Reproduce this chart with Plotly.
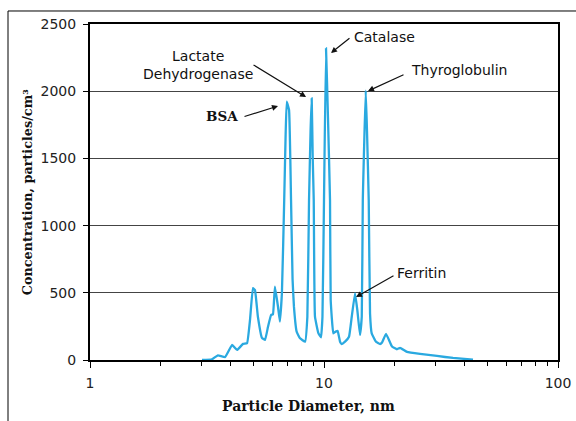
import numpy as np
import plotly.graph_objects as go

# Particle diameter (nm) and concentration (particles/cm3)
diameter = [3.01, 3.32, 3.52, 3.78, 4.05, 4.25, 4.51, 4.69, 4.83, 4.97, 5.07, 5.22,
            5.43, 5.60, 5.76, 5.94, 6.05, 6.17, 6.36, 6.48, 6.61, 6.76, 6.85, 6.93,
            7.09, 7.23, 7.34, 7.44, 7.64, 7.90, 8.30, 8.49, 8.63, 8.76, 8.86, 8.95,
            9.04, 9.15, 9.46, 9.71, 9.85, 10.0, 10.2, 10.4, 10.61, 10.68, 10.96,
            11.22, 11.44, 11.71, 11.90, 12.30, 12.79, 13.14, 13.57, 13.88, 14.25,
            14.50, 14.65, 15.08, 15.27, 15.53, 15.73, 15.99, 16.68, 17.35, 17.70,
            18.41, 19.53, 20.51, 21.13, 22.63, 25.72, 30.40, 35.59, 43.33]
concentration = [0, 5, 35, 22, 112, 75, 120, 125, 300, 535, 520, 320,
                 165, 150, 245, 335, 340, 545, 395, 285, 500, 1190, 1650, 1922,
                 1860, 1190, 600, 397, 211, 161, 136, 322, 1190, 1700, 1947, 1500,
                 1190, 322, 200, 168, 322, 1190, 2319, 1800, 1190, 446, 198,
                 211, 216, 136, 119, 136, 173, 322, 496, 372, 186,
                 322, 1190, 2004, 1700, 1190, 347, 198, 136, 119, 130,
                 195, 100, 80, 90, 60, 45, 30, 15, 3]

y_ticks = [0, 500, 1000, 1500, 2000, 2500]
x_tickvals = [1, 10, 100]
x_ticktext = ["1", "10", "100"]
x_minor = [2, 3, 4, 5, 6, 7, 8, 9, 20, 30, 40, 50, 60, 70, 80, 90]

# Peak labels: text, arrow tip (diameter, concentration)
peak_names = ["Lactate<br>Dehydrogenase", "BSA", "Catalase", "Thyroglobulin", "Ferritin"]
peak_tip_d = [8.38, 6.36, 10.71, 15.42, 13.70]
peak_tip_c = [1957, 1890, 2284, 2001, 469]

# layout / style
arrow_off = [(-54, -33), (-35, 11), (20, -16), (37, -17), (39, -22)]
label_pos = [(0.2308, 0.878), (0.282, 0.726), (0.6293, 0.9613), (0.7874, 0.8631), (0.7083, 0.2589)]

fig = go.Figure()
fig.add_trace(go.Scatter(
    x=diameter, y=concentration, mode="lines",
    line=dict(color="#2aa9e0", width=2.3, shape="spline", smoothing=0.3),
    hoverinfo="skip", showlegend=False))

annots = []
for i, name in enumerate(peak_names):
    annots.append(dict(
        x=np.log10(peak_tip_d[i]), y=peak_tip_c[i], xref="x", yref="y",
        text="", showarrow=True, ax=arrow_off[i][0], ay=arrow_off[i][1],
        arrowhead=2, arrowsize=1, arrowwidth=1.2, arrowcolor="#111", standoff=0))
    bold = name == "BSA"
    annots.append(dict(
        x=label_pos[i][0], y=label_pos[i][1], xref="paper", yref="paper",
        xanchor="center", yanchor="middle",
        text=name, showarrow=False, align="center",
        font=dict(family="DejaVu Serif" if bold else "DejaVu Sans",
                  size=13.5 if bold else 14, color="#111",
                  weight="bold" if bold else "normal")))

# axis titles
annots.append(dict(x=0.466, y=-0.137, xref="paper", yref="paper",
                   xanchor="center", yanchor="middle",
                   text="Particle Diameter, nm", showarrow=False,
                   font=dict(family="DejaVu Serif", size=14, color="#111", weight="bold")))
annots.append(dict(x=-0.134, y=0.5, xref="paper", yref="paper", textangle=-90,
                   xanchor="center", yanchor="middle",
                   text="Concentration, particles/cm³", showarrow=False,
                   font=dict(family="DejaVu Serif", size=12.8, color="#111", weight="bold")))

frame = dict(color="black", width=1)
fig.update_layout(
    width=576, height=421,
    margin=dict(l=90, r=18, t=24, b=61),
    paper_bgcolor="white", plot_bgcolor="white",
    annotations=annots,
    shapes=[dict(type="line", xref="paper", yref="paper",
                 x0=-0.1752, x1=1.2, y0=1.0387, y1=1.0387, line=frame),
            dict(type="line", xref="paper", yref="paper",
                 x0=-0.1752, x1=-0.1752, y0=-0.3, y1=1.0387, line=frame)],
    xaxis=dict(type="log", range=[0, 2], tickvals=x_tickvals, ticktext=x_ticktext,
               ticks="outside", ticklen=6, tickwidth=1, tickcolor="black",
               showline=True, linewidth=2, linecolor="black", mirror=True,
               showgrid=False, zeroline=False, ticklabelstandoff=3, automargin=False,
               tickfont=dict(family="DejaVu Sans", size=14, color="#222"),
               minor=dict(tickvals=x_minor, ticks="outside", ticklen=4,
                          tickcolor="black", showgrid=False)),
    yaxis=dict(range=[0, 2500], tickvals=y_ticks,
               ticks="outside", ticklen=5, tickwidth=1, tickcolor="black",
               showline=True, linewidth=2, linecolor="black", mirror=True,
               showgrid=True, gridcolor="#444", gridwidth=1, zeroline=False,
               ticklabelstandoff=4, automargin=False,
               tickfont=dict(family="DejaVu Sans", size=14, color="#222")),
)

fig.write_html(
    "out.html", config={"displayModeBar": False},
    post_script=("document.body.style.margin='0';"
                 "document.body.style.overflow='hidden';"
                 "document.documentElement.style.overflow='hidden';"))
